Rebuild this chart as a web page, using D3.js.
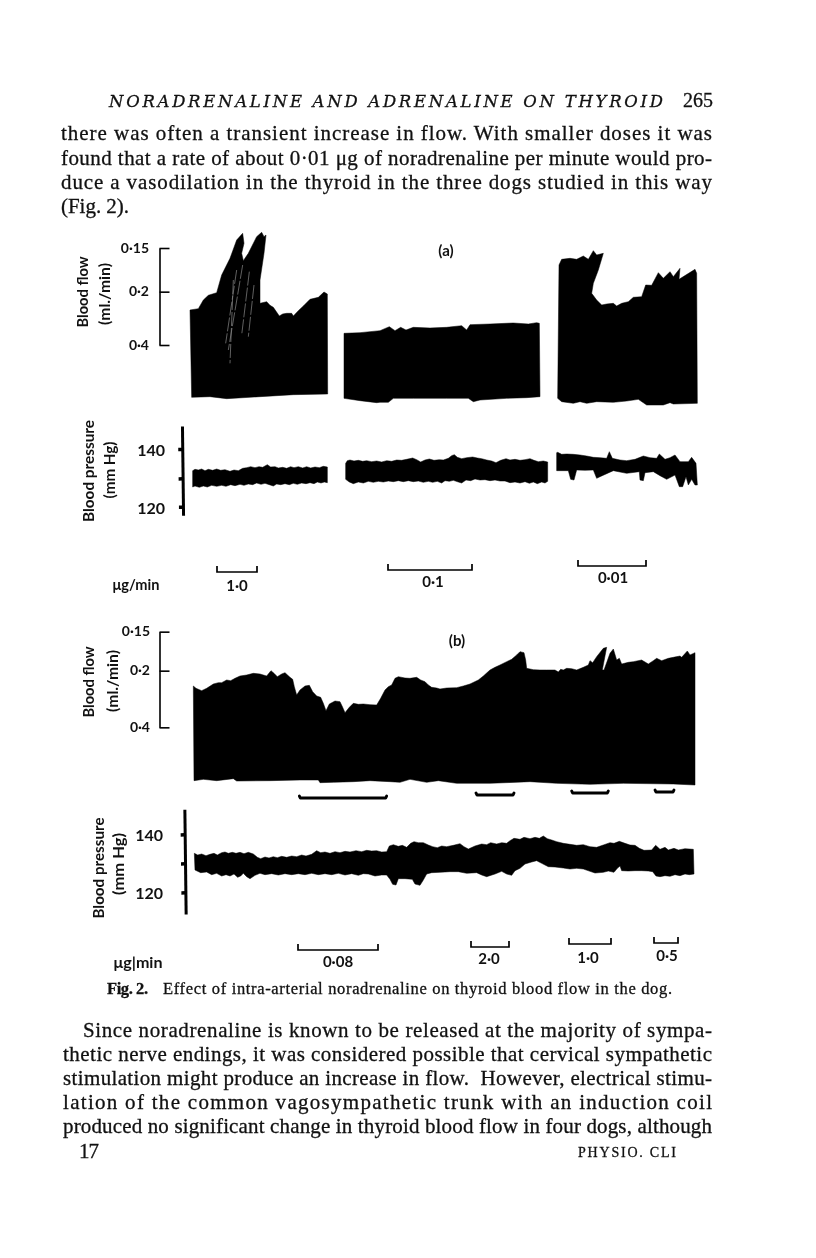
<!DOCTYPE html>
<html>
<head>
<meta charset="utf-8">
<script src="https://d3js.org/d3.v7.min.js"></script>
<style>
  html, body { margin: 0; background: #fff; }
  svg { display: block; filter: blur(0.35px); }
  .page { font-family: "Liberation Serif", serif; fill: #111; stroke: #111; stroke-width: 0.3px; }
  .lab { font-family: Lato, "Open Sans", sans-serif; font-weight: 700; fill: #111; }
  .axis .domain, .axis .tick line { stroke: #000; }
</style>
</head>
<body>
<svg id="page" width="816" height="1258"></svg>
<script>
// trace outlines as [time, pen reading], chart units, reading grows downwards
var flowA1Top = [[390,270],[415,266],[430,240],[445,226],[470,218],[485,165],[510,115],[530,60],[548,40],[552,70],[545,100],[550,122],[565,100],[590,50],[605,37],[612,50],[618,45],[612,100],[600,180],[600,250],[620,245],[630,256],[640,262],[658,288],[668,282],[680,280],[695,280],[700,288],[715,272],[730,258],[750,238],[775,232],[792,216],[802,222]];
var flowA1Bottom = [[803,522],[700,524],[600,530],[500,536],[450,530],[395,532]];
var flowA2Top = [[852,340],[900,338],[960,332],[988,320],[1005,332],[1022,322],[1038,330],[1060,322],[1110,324],[1160,322],[1205,317],[1220,330],[1230,314],[1290,312],[1360,309],[1405,312],[1430,308],[1438,310]];
var flowA2Bottom = [[1440,530],[1400,533],[1340,535],[1260,540],[1240,545],[1225,535],[1160,535],[1060,535],[1000,535],[985,547],[960,547],[950,548],[900,542],[852,535]];
var flowA3Top = [[1497,135],[1505,118],[1530,115],[1550,118],[1570,108],[1585,118],[1600,92],[1610,105],[1630,100],[1615,150],[1600,190],[1595,220],[1610,240],[1625,255],[1640,252],[1660,250],[1670,258],[1685,250],[1705,245],[1720,232],[1745,230],[1757,195],[1775,196],[1795,158],[1810,175],[1830,155],[1840,170],[1860,145],[1857,178],[1905,148],[1910,160]];
var flowA3Bottom = [[1912,550],[1840,552],[1830,548],[1810,555],[1760,555],[1735,538],[1700,543],[1660,547],[1610,545],[1580,550],[1560,545],[1540,550],[1505,545],[1493,535]];
var flowA1Streaks = [[[548,135],[505,390]],[[530,150],[497,370]],[[568,155],[545,345]],[[582,195],[565,350]],[[520,180],[510,430]]];

var pressA1Top = [[398,182],[405,178],[415,180],[425,177],[435,182],[445,178],[458,181],[470,177],[482,181],[495,179],[510,184],[522,180],[535,182],[548,175],[560,173],[572,170],[585,173],[597,170],[608,172],[622,164],[632,171],[645,170],[655,174],[668,172],[680,175],[692,170],[702,173],[715,170],[728,174],[740,170],[752,174],[765,171],[778,173],[790,169],[802,171]];
var pressA1Bottom = [[802,218],[793,216],[783,219],[772,216],[762,221],[750,218],[738,221],[725,219],[712,223],[700,220],[688,224],[675,221],[662,224],[650,222],[640,228],[628,224],[615,220],[603,223],[590,219],[578,224],[565,222],[552,226],[540,223],[525,227],[512,224],[498,229],[485,226],[470,229],[455,226],[442,231],[430,228],[418,232],[405,228],[398,231]];
var pressA2Top = [[857,160],[862,152],[870,150],[882,153],[895,151],[908,154],[920,152],[935,155],[950,153],[965,156],[980,152],[995,154],[1010,150],[1025,151],[1040,148],[1058,144],[1070,149],[1082,156],[1095,150],[1108,147],[1122,151],[1138,149],[1150,150],[1165,145],[1175,137],[1183,134],[1192,142],[1205,146],[1220,143],[1238,141],[1252,144],[1265,146],[1280,150],[1295,153],[1308,158],[1322,151],[1338,146],[1350,150],[1365,148],[1380,151],[1395,149],[1410,146],[1422,151],[1435,155],[1450,153],[1463,156]];
var pressA2Bottom = [[1463,214],[1455,219],[1445,216],[1432,221],[1420,216],[1408,220],[1395,215],[1380,219],[1365,216],[1350,218],[1335,213],[1320,213],[1305,210],[1290,212],[1275,209],[1260,210],[1245,207],[1232,212],[1218,210],[1205,219],[1195,216],[1180,211],[1168,214],[1155,212],[1145,219],[1132,214],[1118,217],[1105,214],[1090,217],[1075,213],[1060,215],[1045,212],[1030,215],[1015,212],[1000,215],[985,213],[970,216],[955,214],[940,217],[925,214],[910,219],[895,216],[880,221],[868,216],[857,208]];
var pressA3Top = [[1490,128],[1493,127],[1505,133],[1520,132],[1540,133],[1560,135],[1580,138],[1600,142],[1620,143],[1640,145],[1648,125],[1657,145],[1680,150],[1700,152],[1725,148],[1750,138],[1770,143],[1790,145],[1798,132],[1815,148],[1830,143],[1845,135],[1860,155],[1885,155],[1895,142],[1908,160],[1912,225]];
var pressA3Bottom = [[1905,225],[1895,208],[1885,225],[1878,200],[1868,230],[1858,230],[1845,195],[1820,208],[1800,197],[1780,185],[1755,188],[1750,212],[1740,210],[1738,185],[1700,190],[1680,186],[1660,182],[1620,200],[1610,205],[1600,180],[1575,181],[1550,180],[1542,210],[1532,208],[1525,182],[1490,182]];

var flowBTop = [[370,198],[378,205],[395,212],[410,205],[430,192],[445,188],[455,188],[470,180],[482,182],[495,175],[510,168],[530,165],[550,160],[570,162],[590,168],[603,152],[612,160],[622,170],[635,162],[645,158],[660,172],[668,178],[673,200],[680,225],[690,210],[705,198],[718,196],[728,215],[740,228],[752,232],[760,250],[768,272],[778,252],[795,243],[810,245],[818,262],[825,278],[838,262],[850,250],[865,253],[880,252],[900,254],[920,255],[932,235],[945,210],[955,200],[965,195],[975,175],[985,170],[1005,174],[1020,175],[1040,172],[1052,180],[1065,185],[1075,195],[1085,202],[1100,204],[1110,207],[1130,204],[1160,203],[1180,198],[1200,192],[1225,180],[1240,168],[1260,150],[1275,142],[1290,135],[1310,125],[1325,118],[1340,105],[1350,95],[1362,98],[1367,120],[1370,145],[1390,149],[1410,150],[1430,150],[1455,150],[1465,156],[1472,148],[1480,150],[1490,145],[1505,146],[1520,150],[1540,142],[1555,135],[1560,122],[1568,128],[1580,110],[1600,85],[1610,82],[1597,150],[1602,150],[1620,100],[1630,87],[1640,120],[1648,115],[1655,132],[1675,127],[1690,125],[1715,120],[1735,132],[1750,122],[1760,115],[1775,122],[1795,115],[1810,112],[1830,108],[1835,112],[1852,93],[1860,105],[1875,98]];
var flowBBottom = [[1875,495],[1810,492],[1660,490],[1560,493],[1460,490],[1380,485],[1260,490],[1160,490],[1105,482],[1070,487],[1020,478],[990,487],[960,485],[900,482],[850,485],[790,487],[750,488],[745,480],[690,480],[600,482],[500,483],[490,476],[440,482],[400,478],[372,482]];
var pressBTop = [[373,160],[383,165],[395,162],[408,167],[420,163],[432,160],[442,165],[455,158],[465,156],[475,160],[487,157],[498,160],[510,157],[522,161],[535,157],[550,162],[562,172],[572,176],[585,171],[597,174],[610,170],[622,173],[635,169],[650,172],[665,168],[680,170],[695,165],[708,168],[725,163],[740,152],[752,158],[765,156],[780,160],[795,155],[810,158],[825,154],[840,156],[858,152],[875,155],[890,151],[905,153],[920,152],[935,156],[950,155],[958,138],[970,134],[985,139],[997,136],[1010,142],[1022,130],[1032,125],[1045,128],[1060,128],[1075,135],[1088,140],[1102,143],[1115,138],[1130,140],[1150,136],[1170,131],[1182,140],[1195,147],[1215,138],[1235,132],[1250,134],[1262,128],[1280,132],[1295,128],[1310,130],[1320,122],[1332,115],[1350,118],[1362,112],[1380,116],[1395,112],[1408,115],[1420,108],[1432,116],[1445,120],[1460,125],[1480,130],[1500,133],[1520,136],[1540,134],[1560,140],[1580,142],[1600,135],[1620,128],[1632,130],[1648,124],[1665,130],[1680,135],[1695,136],[1708,145],[1722,151],[1745,150],[1757,136],[1770,148],[1785,142],[1795,150],[1812,145],[1825,150],[1845,146],[1870,148]];
var pressBBottom = [[1872,222],[1858,224],[1845,222],[1830,227],[1815,224],[1800,229],[1785,227],[1770,230],[1758,228],[1748,215],[1735,213],[1715,212],[1695,212],[1675,213],[1655,212],[1650,198],[1642,205],[1632,217],[1615,213],[1600,217],[1575,219],[1560,214],[1540,207],[1520,205],[1500,207],[1480,204],[1455,201],[1435,200],[1415,190],[1400,182],[1385,186],[1365,192],[1350,205],[1335,212],[1325,226],[1310,222],[1295,214],[1275,222],[1250,230],[1235,225],[1220,218],[1190,220],[1165,215],[1140,215],[1110,217],[1085,218],[1070,222],[1060,240],[1050,256],[1035,252],[1027,238],[1005,236],[985,236],[978,255],[968,253],[960,238],[950,225],[935,225],[915,228],[895,222],[880,221],[865,226],[845,221],[825,225],[805,220],[785,224],[765,221],[745,224],[725,220],[705,224],[685,221],[665,224],[645,221],[625,225],[605,221],[585,224],[570,220],[555,226],[540,236],[530,230],[520,220],[512,228],[503,232],[492,222],[480,228],[468,224],[455,228],[440,220],[425,224],[410,216],[392,218],[375,210]];

// axis ticks
var flowTickLabels = ["0·15", "0·2", "0·4"];
var flowATicks = [84, 215, 375];
var flowBTicks = [35, 152, 322];
var pressTickLabels = ["140", "", "120"];
var pressATicks = [117, 205, 290];
var pressBTicks = [103, 190, 277];
var pressAEnds = [48, 316];
var pressBEnds = [28, 342];

// infusion periods
var doseAStart = [471, 984, 1554];
var doseAStop = [591, 1236, 1758];
var doseALabels = ["1·0", "0·1", "0·01"];
var doseBStart = [684, 1203, 1497, 1752];
var doseBStop = [924, 1317, 1623, 1824];
var doseBLabels = ["0·08", "2·0", "1·0", "0·5"];
var markBStart = [688, 1218, 1505, 1755];
var markBStop = [950, 1332, 1615, 1812];

// page text
var header = "NORADRENALINE AND ADRENALINE ON THYROID";
var paraTop = ["there was often a transient increase in flow. With smaller doses it was",
  "found that a rate of about 0·01 μg of noradrenaline per minute would pro-",
  "duce a vasodilation in the thyroid in the three dogs studied in this way",
  "(Fig. 2)."];
var paraBottom = ["Since noradrenaline is known to be released at the majority of sympa-",
  "thetic nerve endings, it was considered possible that cervical sympathetic",
  "stimulation might produce an increase in flow.  However, electrical stimu-",
  "lation of the common vagosympathetic trunk with an induction coil",
  "produced no significant change in thyroid blood flow in four dogs, although"];

var svg = d3.select("#page");

function pageText(str, x, y, size, len, style, weight, family) {
  var t = svg.append("text").attr("class", "page").attr("x", x).attr("y", y)
    .attr("font-size", size).attr("xml:space", "preserve").text(str);
  if (len) t.attr("textLength", len).attr("lengthAdjust", "spacing");
  if (style) t.attr("font-style", style);
  if (weight) t.attr("font-weight", weight);
  if (family) t.style("font-family", family);
  return t;
}

pageText(header, 109, 107, 16.5, 554, "italic", null, "'DejaVu Serif'");
pageText("265", 683, 107, 20, 30);
var topY = [140, 164.5, 188.5, 213];
paraTop.forEach(function(s, i) { pageText(s, 61, topY[i], 21, i == 3 ? 68 : 651); });
var botY = [1037, 1061, 1085, 1109, 1133];
paraBottom.forEach(function(s, i) { pageText(s, i == 0 ? 83 : 63, botY[i], 21, i == 0 ? 629 : 649); });
pageText("17", 79, 1158, 21, 20);
pageText("PHYSIO. CLI", 578, 1157, 14, 98);
pageText("Fig. 2.", 107, 994, 16.5, 41, null, "bold");
pageText("Effect of intra-arterial noradrenaline on thyroid blood flow in the dog.", 163, 994, 16.5, 509);

function label(str, x, y, size, len, rotate) {
  var t = svg.append("text").attr("class", "lab").attr("font-size", size)
    .attr("text-anchor", "middle").text(str);
  if (len) t.attr("textLength", len).attr("lengthAdjust", "spacingAndGlyphs");
  if (rotate) t.attr("transform", "translate(" + x + "," + y + ") rotate(-90)");
  else t.attr("x", x).attr("y", y);
  return t;
}

var area = d3.line();

function trace(x, y, top, bottom) {
  svg.append("path")
    .attr("d", area(top.concat(bottom).map(function(d) { return [x(d[0]), y(d[1])]; })) + "Z")
    .attr("fill", "#000").attr("stroke", "#000").attr("stroke-width", 0.5);
}

function flowAxis(y, ticks, xPos, labelRight, baseShift) {
  var axisScale = d3.scaleLinear().domain([ticks[0], ticks[2]]).range([y(ticks[0]), y(ticks[2])]);
  var g = svg.append("g").attr("class", "axis").attr("transform", "translate(" + xPos + ",0)")
    .call(d3.axisRight(axisScale).tickValues(ticks).tickSize(10).tickSizeOuter(0).tickFormat(""));
  g.select(".domain").attr("stroke-width", 1.6);
  g.selectAll(".tick line").attr("stroke-width", 1.6);
  ticks.forEach(function(t, i) {
    label(flowTickLabels[i], labelRight, y(t) + baseShift, 14).attr("text-anchor", "end");
  });
}

function pressAxis(y, ticks, ends, xPos, labelRight, midY) {
  var axisScale = d3.scaleLinear().domain(ends).range([y(ends[0]), y(ends[1])]);
  var g = svg.append("g").attr("class", "axis")
    .attr("transform", "translate(" + xPos + ",0) rotate(-0.7 0 " + midY + ")")
    .call(d3.axisLeft(axisScale).tickValues(ticks).tickSize(4).tickSizeOuter(0).tickFormat(""));
  g.select(".domain").attr("stroke-width", 3);
  g.selectAll(".tick line").attr("stroke-width", 3.5);
  ticks.forEach(function(t, i) {
    if (pressTickLabels[i]) label(pressTickLabels[i], labelRight, y(t) + 7, 16).attr("text-anchor", "end");
  });
}

function doses(x, start, stop, labels, bracketY, labelY, labelX) {
  start.forEach(function(s, i) {
    var x0 = x(s), x1 = x(stop[i]), b = bracketY[i];
    svg.append("path").attr("fill", "none").attr("stroke", "#000").attr("stroke-width", 1.7)
      .attr("d", d3.line()([[x0, b - 6], [x0, b], [x1, b], [x1, b - 6]]));
    label(labels[i], labelX[i], labelY[i], 15);
  });
}

// panel (a)
var xA = d3.scaleLinear().domain([0, 2040]).range([60, 740]);
var yFlowA = d3.scaleLinear().domain([0, 600]).range([220, 420]);
var yPressA = d3.scaleLinear().domain([0, 600]).range([410, 610]);

trace(xA, yFlowA, flowA1Top, flowA1Bottom);
trace(xA, yFlowA, flowA2Top, flowA2Bottom);
trace(xA, yFlowA, flowA3Top, flowA3Bottom);
flowA1Streaks.forEach(function(s) {
  svg.append("line").attr("x1", xA(s[0][0])).attr("y1", yFlowA(s[0][1]))
    .attr("x2", xA(s[1][0])).attr("y2", yFlowA(s[1][1]))
    .attr("stroke", "#8a8a8a").attr("stroke-width", 0.7).attr("stroke-dasharray", "14 2");
});
flowAxis(yFlowA, flowATicks, 159.5, 149, 4.5);
label("Blood flow", 88, 292, 15, 71, true);
label("(ml./min)", 110, 294, 14.5, 62, true);
label("(a)", 446, 256, 15);

trace(xA, yPressA, pressA1Top, pressA1Bottom);
trace(xA, yPressA, pressA2Top, pressA2Bottom);
trace(xA, yPressA, pressA3Top, pressA3Bottom);
pressAxis(yPressA, pressATicks, pressAEnds, 182.5, 165, 470);
label("Blood pressure", 94, 471, 15, 102, true);
label("(mm Hg)", 115, 470, 14.5, 57, true);
doses(xA, doseAStart, doseAStop, doseALabels, [572, 570, 566], [591, 587, 583], [237, 433, 613]);
label("μg/min", 136, 590, 15, 47);

// panel (b)
var xB = d3.scaleLinear().domain([0, 2040]).range([70, 750]);
var yFlowB = d3.scaleLinear().domain([0, 600]).range([620, 820]);
var yPressB = d3.scaleLinear().domain([0, 600]).range([800, 1000]);

trace(xB, yFlowB, flowBTop, flowBBottom);
flowAxis(yFlowB, flowBTicks, 159.5, 150, 4.5);
label("Blood flow", 94, 682, 15, 71, true);
label("(ml./min)", 118, 681, 14.5, 62, true);
label("(b)", 457, 646, 15);

var markY = [798, 795, 793, 792];
markBStart.forEach(function(s, i) {
  var x0 = xB(s), x1 = xB(markBStop[i]), b = markY[i];
  svg.append("path").attr("fill", "none").attr("stroke", "#000").attr("stroke-width", 2.8)
    .attr("stroke-linecap", "round").attr("stroke-linejoin", "round")
    .attr("d", d3.line()([[x0, b - 2], [x0 + 1, b], [x1 - 1, b], [x1, b - 2]]));
});

trace(xB, yPressB, pressBTop, pressBBottom);
pressAxis(yPressB, pressBTicks, pressBEnds, 185, 163, 862);
label("Blood pressure", 104, 868, 15, 101, true);
label("(mm Hg)", 124, 864, 14.5, 62, true);
doses(xB, doseBStart, doseBStop, doseBLabels, [950, 947, 944, 943], [967, 964, 963, 961], [338, 489, 588, 667]);
label("μg|min", 138, 968, 15, 49);
</script>
</body>
</html>
